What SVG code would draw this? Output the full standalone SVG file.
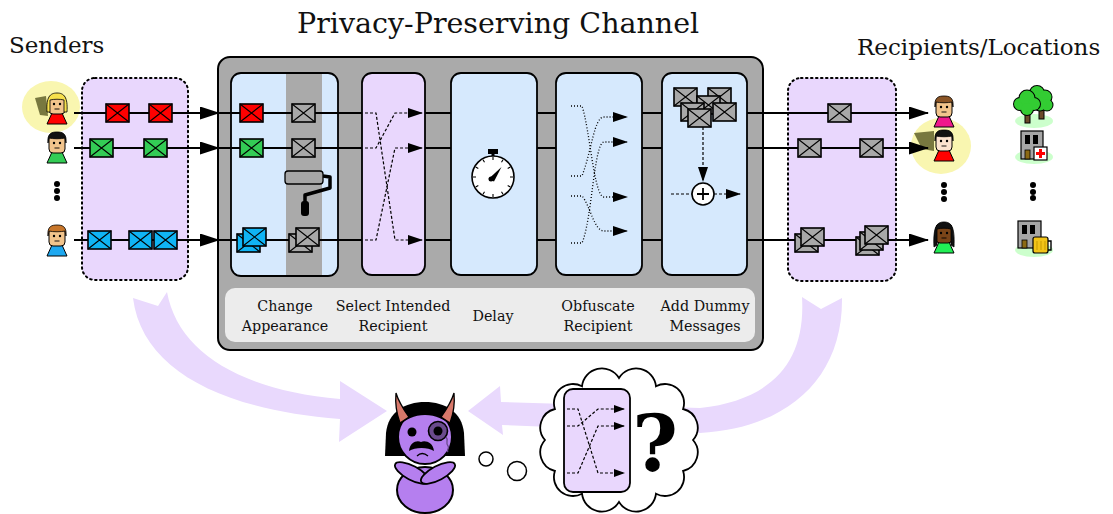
<svg xmlns="http://www.w3.org/2000/svg" xmlns:xlink="http://www.w3.org/1999/xlink" width="1113" height="514" viewBox="0 0 1113 514">
  <style>
    .txt { font-family: "DejaVu Serif", "Liberation Serif", serif; fill: #111; }
    .title { font-size: 28.5px; }
    .side { font-size: 23px; }
    .lbl { font-size: 14.3px; text-anchor: middle; }
    .blue { fill: #d6e9fd; stroke: #000; stroke-width: 1.8; }
    .purple { fill: #e9d7fd; stroke: #000; stroke-width: 1.8; }
    .mix { fill: #e9d7fd; stroke: #000; stroke-width: 2; stroke-dasharray: 1.5 3.5; stroke-linecap: round; }
    .row { stroke: #000; stroke-width: 2; fill: none; }
    .dash { stroke: #000; stroke-width: 1.2; fill: none; stroke-dasharray: 3 2; }
    .dot { stroke: #000; stroke-width: 1.3; fill: none; stroke-dasharray: 1 2; }
    .skin { fill: #f2c48c; stroke: #000; stroke-width: 1; }
    .ol { stroke: #000; stroke-width: 1; }
    .flow { fill: #e9d9fd; }
    .base { fill: #ccffcc; }
    .glow { fill: #f9f6b0; }
    .shade { fill: #78783f; }
  </style>
  <defs>
    <marker id="ab" viewBox="0 0 20 13" markerWidth="20" markerHeight="13" refX="19" refY="6.5" orient="auto" markerUnits="userSpaceOnUse">
      <path d="M0,0 L20,6.5 L0,13 Z" fill="#000"/>
    </marker>
    <marker id="as" viewBox="0 0 15 10" markerWidth="15" markerHeight="10" refX="14" refY="5" orient="auto" markerUnits="userSpaceOnUse">
      <path d="M0,0 L15,5 L0,10 Z" fill="#000"/>
    </marker>
    <marker id="am" viewBox="0 0 11 8" markerWidth="11" markerHeight="8" refX="10" refY="4" orient="auto" markerUnits="userSpaceOnUse">
      <path d="M0,0 L11,4 L0,8 Z" fill="#000"/>
    </marker>
    <g id="env">
      <rect x="0" y="0" width="23" height="18" stroke="#000" stroke-width="1.6"/>
      <path d="M0,0 L23,18 M23,0 L0,18" stroke="#000" stroke-width="1.1" fill="none"/>
    </g>
    <!-- person parts, local coords: head top at 0, centre x at 0 -->
    <path id="shirt" d="M-5,20 L5,20 L10,31 L-10,31 Z"/>
    <rect id="head" x="-8" y="2" width="16" height="19" rx="4"/>
    <path id="hairShort" d="M-9,11 C-10,1 -5,0 0,0 C5,0 10,1 9,11 L8,6 C4,7 -4,7 -8,6 Z"/>
    <path id="hairLong" d="M-10,19 C-11,4 -7,0 0,0 C7,0 11,4 10,19 L7,19 L7,7 C3,6 -3,6 -7,7 L-7,19 Z"/>
    <path id="hairLonger" d="M-10,25 C-11,4 -7,0 0,0 C7,0 11,4 10,25 L7,23 L7,7 C3,6 -3,6 -7,7 L-7,23 Z"/>
    <g id="face">
      <circle cx="-3" cy="11" r="1.2" fill="#000"/>
      <circle cx="3" cy="11" r="1.2" fill="#000"/>
      <path d="M-2.5,16 L2.5,16" stroke="#000" stroke-width="0.9"/>
    </g>
  </defs>

  <rect width="1113" height="514" fill="#fff"/>

  <!-- headings -->
  <text class="txt title" x="297" y="33">Privacy-Preserving Channel</text>
  <text class="txt side" x="9" y="53">Senders</text>
  <text class="txt side" x="857" y="55">Recipients/Locations</text>

  <!-- observer flows -->
  <g id="flows">
    <path class="flow" d="M133,298 L158,306 L167,292 C178,352 240,390 340,399 L340,381 L387,411 L339,442 L340,419 C222,410 142,370 133,298 Z"/>
    <path class="flow" d="M802,297 L821,309 L842,298 C843,378 788,428 700,433 L502,425 L503,435 L468,411 L500,386 L501,402 L700,408 C772,400 806,362 802,297 Z"/>
  </g>

  <!-- spotlight behind the tracked sender and recipient -->
  <g id="spotlights">
    <ellipse class="glow" cx="51" cy="107" rx="29" ry="26"/>
    <polygon class="shade" points="35,98 46,96 48,116 40,115"/>
    <ellipse class="glow" cx="941" cy="146" rx="30" ry="28"/>
    <polygon class="shade" points="914,133 934,131 934,151 922,149"/>
  </g>

  <!-- mixing zones outside the channel -->
  <g id="sender-mix"><rect class="mix" x="82" y="78" width="106" height="202" rx="13"/></g>
  <g id="recipient-mix"><rect class="mix" x="788" y="78" width="108" height="203" rx="13"/></g>

  <!-- channel -->
  <g id="channel">
    <rect x="218" y="57" width="545" height="293" rx="12" fill="#aaaaaa" stroke="#000" stroke-width="2"/>
    <rect x="225" y="288" width="530" height="54" rx="10" fill="#ececec"/>
    <text class="txt lbl" x="285" y="311">Change</text>
    <text class="txt lbl" x="285" y="331">Appearance</text>
    <text class="txt lbl" x="393" y="311">Select Intended</text>
    <text class="txt lbl" x="393" y="331">Recipient</text>
    <text class="txt lbl" x="493" y="321">Delay</text>
    <text class="txt lbl" x="598" y="311">Obfuscate</text>
    <text class="txt lbl" x="598" y="331">Recipient</text>
    <text class="txt lbl" x="705" y="311">Add Dummy</text>
    <text class="txt lbl" x="705" y="331">Messages</text>
  </g>

  <g id="stage-change">
    <rect class="blue" x="231" y="73" width="107" height="203" rx="10"/>
    <rect x="286" y="74" width="36" height="201" fill="#aaaaaa"/>
  </g>
  <g id="stage-select"><rect class="purple" x="362" y="73" width="63" height="202" rx="10"/></g>
  <g id="stage-delay">
    <rect class="blue" x="451" y="73" width="86" height="202" rx="10"/>
    <rect x="488" y="149" width="10" height="5" fill="#000"/>
    <rect x="491.5" y="153" width="3" height="4" fill="#000"/>
    <circle cx="493" cy="177" r="21" fill="#fff" stroke="#000" stroke-width="1.6"/>
    <path d="M513,177 L510,177 M510.3,187 L507.7,185.5 M503,194.3 L501.5,191.7 M493,197 L493,194 M483,194.3 L484.5,191.7 M475.7,187 L478.3,185.5 M473,177 L476,177 M475.7,167 L478.3,168.5 M483,159.7 L484.5,162.3 M493,157 L493,160 M503,159.7 L501.5,162.3 M510.3,167 L507.7,168.5" stroke="#000" stroke-width="1.1"/>
    <path d="M488.5,179 L501.5,167 L494,181.5 Z" fill="#000"/>
    <circle cx="491" cy="179" r="2.5" fill="#000"/>
  </g>
  <g id="stage-obfuscate"><rect class="blue" x="556" y="73" width="86" height="202" rx="10"/></g>
  <g id="stage-dummy">
    <rect class="blue" x="662" y="73" width="85" height="202" rx="10"/>
    <circle cx="703" cy="194" r="11" fill="#fff" stroke="#000" stroke-width="1.6"/>
    <path d="M697,194 L709,194 M703,188 L703,200" stroke="#000" stroke-width="1.8"/>
  </g>

  <!-- connectors -->
  <g id="connectors">
    <path class="row" d="M74,113 L219,113" marker-end="url(#ab)"/>
    <path class="row" d="M74,148 L219,148" marker-end="url(#ab)"/>
    <path class="row" d="M74,240 L219,240" marker-end="url(#ab)"/>
    <path class="row" d="M219,113 L362,113 M219,148 L362,148 M219,240 L362,240"/>
    <path class="row" d="M425,113 L451,113 M425,148 L451,148 M425,240 L451,240"/>
    <path class="row" d="M537,113 L556,113 M537,148 L556,148 M537,240 L556,240"/>
    <path class="row" d="M642,113 L662,113 M642,148 L662,148 M642,240 L662,240"/>
    <path class="row" d="M747,113 L928,113" marker-end="url(#ab)"/>
    <path class="row" d="M747,148 L928,148" marker-end="url(#ab)"/>
    <path class="row" d="M747,240 L928,240" marker-end="url(#ab)"/>

    <path class="dash" d="M365,113 L376,113 L395,240 L422,240" marker-end="url(#as)"/>
    <path class="dash" d="M365,148 L376,148 L395,113 L422,113" marker-end="url(#as)"/>
    <path class="dash" d="M365,240 L376,240 L395,148 L422,148" marker-end="url(#as)"/>

    <path class="dot" d="M571,106 L582,106 C590,130 594,197 604,197 L627,197" marker-end="url(#as)"/>
    <path class="dot" d="M571,176 L582,176 C592,150 594,117 604,117 L627,117" marker-end="url(#as)"/>
    <path class="dot" d="M571,196 L582,196 C590,205 594,231 604,231 L627,231" marker-end="url(#as)"/>
    <path class="dot" d="M571,243 L582,243 C592,220 594,142 604,142 L627,142" marker-end="url(#as)"/>

    <path class="dash" d="M703,127 L703,181" marker-end="url(#as)"/>
    <path class="dash" d="M671,194 L692,194"/>
    <path class="dash" d="M714,194 L740,194" marker-end="url(#as)"/>
  </g>

  <!-- messages -->
  <g id="msgs-senders">
    <use href="#env" x="106" y="104" fill="#ff0000"/>
    <use href="#env" x="149" y="104" fill="#ff0000"/>
    <use href="#env" x="90" y="139" fill="#33cc55"/>
    <use href="#env" x="144" y="139" fill="#33cc55"/>
    <use href="#env" x="88" y="231" fill="#10b4f4"/>
    <use href="#env" x="129" y="231" fill="#10b4f4"/>
    <use href="#env" x="154" y="231" fill="#10b4f4"/>
  </g>
  <g id="msgs-change">
    <use href="#env" x="240" y="104" fill="#ff0000"/>
    <use href="#env" x="292" y="104" fill="#a8a8a8"/>
    <use href="#env" x="240" y="139" fill="#33cc55"/>
    <use href="#env" x="292" y="139" fill="#a8a8a8"/>
    <use href="#env" x="237" y="234" fill="#10b4f4"/>
    <use href="#env" x="243" y="228" fill="#10b4f4"/>
    <use href="#env" x="289" y="234" fill="#a8a8a8"/>
    <use href="#env" x="296" y="228" fill="#a8a8a8"/>
  </g>
  <g id="paint-roller">
    <path d="M323,176 L330,177 L330,188 L305,195 L305,204" fill="none" stroke="#000" stroke-width="3.5" stroke-linejoin="round"/>
    <rect x="285" y="171" width="38" height="13" rx="3" fill="#a6a6a6" stroke="#000" stroke-width="1.3"/>
    <rect x="301" y="201" width="8" height="15" rx="3" fill="#000"/>
  </g>
  <g id="msgs-dummy">
    <use href="#env" x="674" y="88" fill="#a8a8a8"/>
    <use href="#env" x="708" y="88" fill="#a8a8a8"/>
    <use href="#env" x="697" y="96" fill="#a8a8a8"/>
    <use href="#env" x="681" y="103" fill="#a8a8a8"/>
    <use href="#env" x="713" y="103" fill="#a8a8a8"/>
    <use href="#env" x="688" y="109" fill="#a8a8a8"/>
  </g>
  <g id="msgs-recipients">
    <use href="#env" x="828" y="104" fill="#a8a8a8"/>
    <use href="#env" x="798" y="139" fill="#a8a8a8"/>
    <use href="#env" x="860" y="139" fill="#a8a8a8"/>
    <use href="#env" x="795" y="234" fill="#a8a8a8"/>
    <use href="#env" x="801" y="228" fill="#a8a8a8"/>
    <use href="#env" x="856" y="237" fill="#a8a8a8"/>
    <use href="#env" x="860" y="232" fill="#a8a8a8"/>
    <use href="#env" x="865" y="226" fill="#a8a8a8"/>
  </g>

  <!-- senders -->
  <g id="sender-1" transform="translate(57,93)">
    <use href="#shirt" fill="#ff0000" class="ol"/>
    <use href="#head" class="skin"/>
    <use href="#hairLong" fill="#f6e04c" stroke="#000" stroke-width="0.8"/>
    <use href="#face"/>
  </g>
  <g id="sender-2" transform="translate(57,132)">
    <use href="#shirt" fill="#33cc55" class="ol"/>
    <use href="#head" class="skin"/>
    <use href="#hairShort" fill="#111" stroke="#000" stroke-width="0.8"/>
    <use href="#face"/>
  </g>
  <g id="sender-dots" fill="#000">
    <circle cx="57" cy="184" r="3"/><circle cx="57" cy="191" r="3"/><circle cx="57" cy="198" r="3"/>
  </g>
  <g id="sender-3" transform="translate(57,225)">
    <use href="#shirt" fill="#1ea8f0" class="ol"/>
    <use href="#head" class="skin"/>
    <use href="#hairShort" fill="#c8762a" stroke="#000" stroke-width="0.8"/>
    <use href="#face"/>
  </g>

  <!-- recipients -->
  <g id="recipient-1" transform="translate(944,96)">
    <use href="#shirt" fill="#f0188c" class="ol"/>
    <use href="#head" class="skin"/>
    <use href="#hairShort" fill="#8b5526" stroke="#000" stroke-width="0.8"/>
    <use href="#face"/>
  </g>
  <g id="recipient-2" transform="translate(944,130)">
    <use href="#shirt" fill="#ff0000" class="ol"/>
    <use href="#head" fill="#fbe3cf" stroke="#000" stroke-width="1"/>
    <use href="#hairShort" fill="#111" stroke="#000" stroke-width="0.8"/>
    <use href="#face"/>
  </g>
  <g id="recipient-dots" fill="#000">
    <circle cx="944" cy="185" r="3"/><circle cx="944" cy="192" r="3"/><circle cx="944" cy="199" r="3"/>
  </g>
  <g id="recipient-3" transform="translate(944,222)">
    <use href="#shirt" fill="#22ee55" class="ol"/>
    <use href="#head" fill="#7a4418" stroke="#000" stroke-width="1"/>
    <use href="#hairLonger" fill="#111" stroke="#000" stroke-width="0.8"/>
    <use href="#face"/>
  </g>

  <!-- locations -->
  <g id="loc-park">
    <ellipse class="base" cx="1034" cy="121" rx="19" ry="7"/>
    <rect x="1039" y="104" width="5" height="15" fill="#6b4a2a" stroke="#000" stroke-width="1"/>
    <g stroke="#000" stroke-width="2" fill="#33cc33">
      <circle cx="1037" cy="93" r="7"/><circle cx="1045" cy="97" r="6.5"/><circle cx="1047" cy="105" r="5.5"/><circle cx="1040" cy="104" r="6.5"/>
    </g>
    <g fill="#33cc33">
      <circle cx="1037" cy="93" r="7"/><circle cx="1045" cy="97" r="6.5"/><circle cx="1047" cy="105" r="5.5"/><circle cx="1040" cy="104" r="6.5"/>
    </g>
    <rect x="1025" y="108" width="5" height="15" fill="#6b4a2a" stroke="#000" stroke-width="1"/>
    <g stroke="#000" stroke-width="2" fill="#33cc33">
      <circle cx="1020" cy="104" r="6"/><circle cx="1027" cy="98" r="7.5"/><circle cx="1034" cy="104" r="6"/><circle cx="1027" cy="109" r="6"/>
    </g>
    <g fill="#33cc33">
      <circle cx="1020" cy="104" r="6"/><circle cx="1027" cy="98" r="7.5"/><circle cx="1034" cy="104" r="6"/><circle cx="1027" cy="109" r="6"/>
    </g>
  </g>
  <g id="loc-hospital">
    <ellipse class="base" cx="1034" cy="157" rx="19" ry="7"/>
    <rect x="1021" y="131" width="22" height="28" fill="#a6a6a6" stroke="#000" stroke-width="1.2"/>
    <rect x="1025" y="135" width="5" height="9" fill="#000"/>
    <rect x="1033" y="135" width="5" height="9" fill="#000"/>
    <rect x="1025" y="150" width="5" height="9" fill="#8b6a14" stroke="#000" stroke-width="0.8"/>
    <rect x="1034" y="147" width="13" height="13" fill="#fff" stroke="#000" stroke-width="1.2"/>
    <rect x="1039" y="149" width="3" height="9" fill="#ff0000"/>
    <rect x="1036" y="152" width="9" height="3" fill="#ff0000"/>
  </g>
  <g id="location-dots" fill="#000">
    <circle cx="1033" cy="185" r="3"/><circle cx="1033" cy="192" r="3"/><circle cx="1033" cy="198" r="3"/>
  </g>
  <g id="loc-bar">
    <ellipse class="base" cx="1034" cy="250" rx="19" ry="7"/>
    <rect x="1018" y="221" width="23" height="27" fill="#a6a6a6" stroke="#000" stroke-width="1.2"/>
    <rect x="1022" y="225" width="5" height="9" fill="#000"/>
    <rect x="1030" y="225" width="5" height="9" fill="#000"/>
    <rect x="1022" y="240" width="5" height="8" fill="#8b6a14" stroke="#000" stroke-width="0.8"/>
    <path d="M1047,241 L1051,241 L1051,250 L1047,250" fill="none" stroke="#000" stroke-width="1.4"/>
    <rect x="1033" y="237" width="15" height="16" rx="2" fill="#f2c418" stroke="#000" stroke-width="1.2"/>
    <path d="M1037,241 L1037,250 M1041,241 L1041,250 M1045,241 L1045,250" stroke="#c79a00" stroke-width="1"/>
  </g>

  <!-- observer -->
  <g id="observer">
    <path d="M385,456 L386,433 C388,412 405,402 425,402 C445,402 462,412 464,433 L465,456 Z" fill="#000"/>
    <ellipse cx="425" cy="490" rx="28" ry="23" fill="#b57fef" stroke="#000" stroke-width="2"/>
    <circle cx="425" cy="437" r="27" fill="#b57fef" stroke="#000" stroke-width="2"/>
    <path d="M399,426 C401,413 412,405 425,405 C438,405 449,413 451,426 C444,419 436,415 425,415 C414,415 406,419 399,426 Z" fill="#000"/>
    <path d="M396,393 C395,404 397,415 400,423 L409,417 C404,410 399,403 396,393 Z" fill="#d8786a" stroke="#000" stroke-width="1.3"/>
    <path d="M454,393 C455,404 453,415 450,423 L441,417 C446,410 451,403 454,393 Z" fill="#d8786a" stroke="#000" stroke-width="1.3"/>
    <circle cx="412" cy="432" r="4.5" fill="#000"/>
    <circle cx="438" cy="431" r="9.5" fill="#6a4a8c" stroke="#000" stroke-width="1.6"/>
    <circle cx="438" cy="431" r="4.5" fill="#000"/>
    <path d="M446,437 C449,440 445,443 448,446 C450,448 446,450 448,452" fill="none" stroke="#6a4a8c" stroke-width="1.3"/>
    <path d="M409,451 C410,442 417,440 421,442 C425,440 433,442 434,451 C428,447 415,447 409,451 Z" fill="#000"/>
    <path d="M417,456 Q422,451 428,456" fill="none" stroke="#000" stroke-width="1.3"/>
    <ellipse cx="412" cy="473" rx="19" ry="7" transform="rotate(28 412 473)" fill="#b57fef" stroke="#000" stroke-width="1.8"/>
    <ellipse cx="438" cy="473" rx="19" ry="7" transform="rotate(-28 438 473)" fill="#b57fef" stroke="#000" stroke-width="1.8"/>
  </g>

  <!-- thought -->
  <g id="thought">
    <circle cx="486" cy="459" r="7" fill="#fff" stroke="#000" stroke-width="1.5"/>
    <circle cx="517" cy="471" r="9.5" fill="#fff" stroke="#000" stroke-width="1.5"/>
    <path d="M693,440 A19,19 0 0 1 683.1,471 A19,19 0 0 1 656,493.7 A20,20 0 0 1 619,502 A20,20 0 0 1 582,493.7 A19,19 0 0 1 554.9,471 A19,19 0 0 1 545,440 A19,19 0 0 1 554.9,409 A19,19 0 0 1 582,386.3 A20,20 0 0 1 619,378 A20,20 0 0 1 656,386.3 A19,19 0 0 1 683.1,409 A19,19 0 0 1 693,440 Z" fill="#fff" stroke="#000" stroke-width="1.8"/>
    <rect class="purple" x="564" y="389" width="66" height="103" rx="9" stroke-width="1.5"/>
    <path class="dash" d="M567,409 L578,409 L598,473 L624,473" marker-end="url(#am)"/>
    <path class="dash" d="M567,426 L578,426 L598,409 L624,409" marker-end="url(#am)"/>
    <path class="dash" d="M567,473 L578,473 L598,426 L624,426" marker-end="url(#am)"/>
    <text x="655" y="471" text-anchor="middle" font-family="DejaVu Serif, serif" font-weight="bold" font-size="78" fill="#000">?</text>
  </g>
</svg>
